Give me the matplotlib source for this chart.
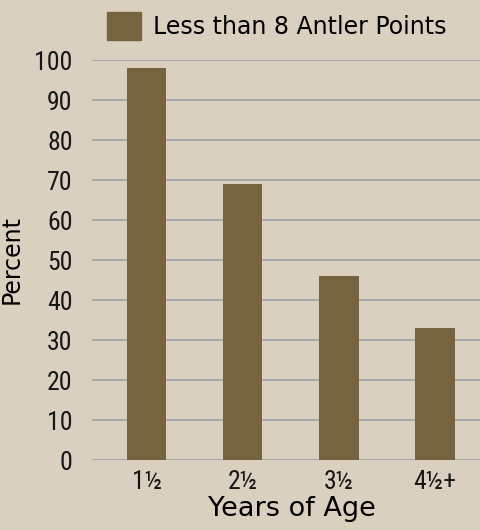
import matplotlib
matplotlib.use("Agg")
import matplotlib.pyplot as plt
from matplotlib import font_manager
from matplotlib.patches import Patch

ages = ["1\u00bd", "2\u00bd", "3\u00bd", "4\u00bd+"]
less_than_8 = [98, 69, 46, 33]
y_ticks = list(range(0, 101, 10))

bg = "#d9d0bf"
bar_color = "#766440"
grid_color = "#9ca1a9"

# pick a narrow face if one is installed
names = {f.name for f in font_manager.fontManager.ttflist}
narrow = "DejaVu Sans"
for cand in ["Liberation Sans Narrow", "Roboto Condensed", "DejaVu Sans Condensed"]:
    if cand in names:
        narrow = cand
        break

fig = plt.figure(figsize=(4.81, 5.30), dpi=100, facecolor=bg)
ax = fig.add_axes([92 / 481, 70 / 530, 389 / 481, 400 / 530])
ax.set_facecolor(bg)

x = range(len(ages))
ax.bar(x, less_than_8, width=0.41, color=bar_color, zorder=3)

ax.set_ylim(0, 100)
ax.set_xlim(-0.57, 3.48)
ax.set_yticks(y_ticks)
ax.set_xticks(list(x))
ax.set_xticklabels(ages)
ax.yaxis.grid(True, color=grid_color, linewidth=1.2, zorder=0)
ax.set_axisbelow(True)
for s in ax.spines.values():
    s.set_visible(False)
ax.tick_params(length=0, labelsize=18.5, colors="#161616", pad=14)
ax.tick_params(axis="x", pad=7)
for lab in ax.get_xticklabels() + ax.get_yticklabels():
    lab.set_family(narrow)
    lab.set_stretch("condensed")

ax.set_ylabel("Percent", fontsize=17, family="DejaVu Sans")
ax.yaxis.set_label_coords(-68 / 389, 0.5)
ax.set_xlabel("Years of Age", fontsize=19.5, family="DejaVu Sans")
ax.xaxis.set_label_coords(200 / 389, -36 / 400)

fig.legend(handles=[Patch(color=bar_color, label="Less than 8 Antler Points")],
           loc="upper left", bbox_to_anchor=(86 / 481, 1.017), frameon=False,
           fontsize=17, handlelength=1.45, handleheight=1.45, handletextpad=0.5)

fig.savefig("out.png", dpi=100, facecolor=bg)
